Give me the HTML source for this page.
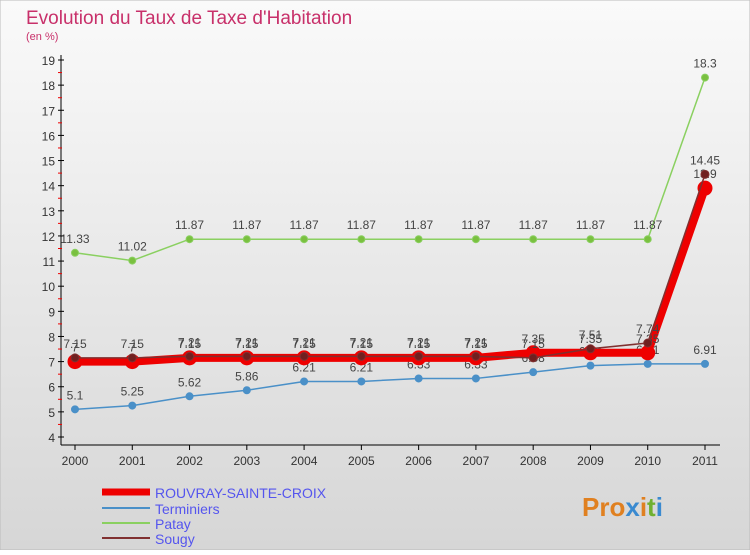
<!DOCTYPE html>
<html><head><meta charset="utf-8"><style>
body{margin:0;width:750px;height:550px;overflow:hidden;font-family:"Liberation Sans",sans-serif}
</style></head><body>
<svg width="750" height="550" xmlns="http://www.w3.org/2000/svg" id="c">
<defs><linearGradient id="bg" x1="0" y1="0" x2="0" y2="1"><stop offset="0" stop-color="#fafafa"/><stop offset="1" stop-color="#d6d6d6"/></linearGradient></defs>
<rect x="0" y="0" width="750" height="550" fill="url(#bg)" stroke="#bbb"/>
<text x="26" y="24" font-size="19" fill="#c8306a">Evolution du Taux de Taxe d'Habitation</text>
<text x="26" y="40" font-size="11" fill="#c8306a">(en %)</text>
<g id="axes"></g><g id="series"></g>
<g>
<line x1="102" y1="492" x2="150" y2="492" stroke="#e00" stroke-width="7"/>
<text x="155" y="498" font-size="14" fill="#55e">ROUVRAY-SAINTE-CROIX</text>
<line x1="102" y1="508" x2="150" y2="508" stroke="#4a90c8" stroke-width="2"/>
<text x="155" y="514" font-size="14" fill="#55e">Terminiers</text>
<line x1="102" y1="523" x2="150" y2="523" stroke="#8ad060" stroke-width="2"/>
<text x="155" y="529" font-size="14" fill="#55e">Patay</text>
<line x1="102" y1="538" x2="150" y2="538" stroke="#803030" stroke-width="2"/>
<text x="155" y="544" font-size="14" fill="#55e">Sougy</text>
</g>
<text x="582" y="516" font-size="26" font-weight="bold" fill="#e08020">Pro<tspan fill="#3a8ad0">x</tspan><tspan fill="#e08020">i</tspan><tspan fill="#70b030">t</tspan><tspan fill="#3a8ad0">i</tspan></text>
</svg>
<script>
const years=[2000,2001,2002,2003,2004,2005,2006,2007,2008,2009,2010,2011];
const yTicks=[4,5,6,7,8,9,10,11,12,13,14,15,16,17,18,19];
const rouvray=[7,7,7.15,7.15,7.15,7.15,7.15,7.15,7.35,7.35,7.35,13.9];
const terminiers=[5.1,5.25,5.62,5.86,6.21,6.21,6.33,6.33,6.58,6.84,6.91,6.91];
const patay=[11.33,11.02,11.87,11.87,11.87,11.87,11.87,11.87,11.87,11.87,11.87,18.3];
const sougy=[7.15,7.15,7.21,7.21,7.21,7.21,7.21,7.21,7.15,7.51,7.74,14.45];
const NS="http://www.w3.org/2000/svg";
const xs=i=>75+i*(630/11);
const ys=v=>437-(v-4)*(377/15);
function mk(t,a,p){const e=document.createElementNS(NS,t);for(const k in a)e.setAttribute(k,a[k]);p.appendChild(e);return e;}
const ax=document.getElementById('axes');
let l=mk('line',{x1:61,y1:55,x2:61,y2:445,stroke:'#000'},ax);

l=mk('line',{x1:61,y1:445,x2:720,y2:445,stroke:'#000'},ax);

yTicks.forEach(v=>{
 mk('line',{x1:58,y1:ys(v),x2:64,y2:ys(v),stroke:'#000'},ax);
 if(v<19)mk('line',{x1:58,y1:ys(v+0.5),x2:62,y2:ys(v+0.5),stroke:'#e00'},ax);
 const t=mk('text',{x:55,y:ys(v)+5,'font-size':12,'text-anchor':'end',fill:'#333'},ax);t.textContent=v;
 
});
years.forEach((y,i)=>{
 mk('line',{x1:xs(i),y1:445,x2:xs(i),y2:450,stroke:'#000'},ax);
 const t=mk('text',{x:xs(i),y:465,'font-size':12,'text-anchor':'middle',fill:'#333'},ax);t.textContent=y;
 
});
const sg=document.getElementById('series');
function series(name,data,col,w,r,dot){
 const g=mk('g',{},sg);
 
 const p=mk('polyline',{points:data.map((v,i)=>xs(i)+','+ys(v)).join(' '),fill:'none',stroke:col,'stroke-width':w,'stroke-linejoin':'round'},g);
 
 data.forEach((v,i)=>{
  const c=mk('circle',{cx:xs(i),cy:ys(v),r:r,fill:dot,stroke:col,'stroke-width':1},g);
  
  const t=mk('text',{x:xs(i),y:ys(v)-10,'font-size':12,'text-anchor':'middle',fill:'#444'},g);t.textContent=v;
  
 });
}
series('terminiers',terminiers,'#4a90c8',1.5,3.5,'#4a90c8');
series('patay',patay,'#8ad060',1.5,3.5,'#7ac040');
series('rouvray',rouvray,'#e00',8,7,'#e00');
series('sougy',sougy,'#803030',1.5,4,'#702020');
</script>
</body></html>
